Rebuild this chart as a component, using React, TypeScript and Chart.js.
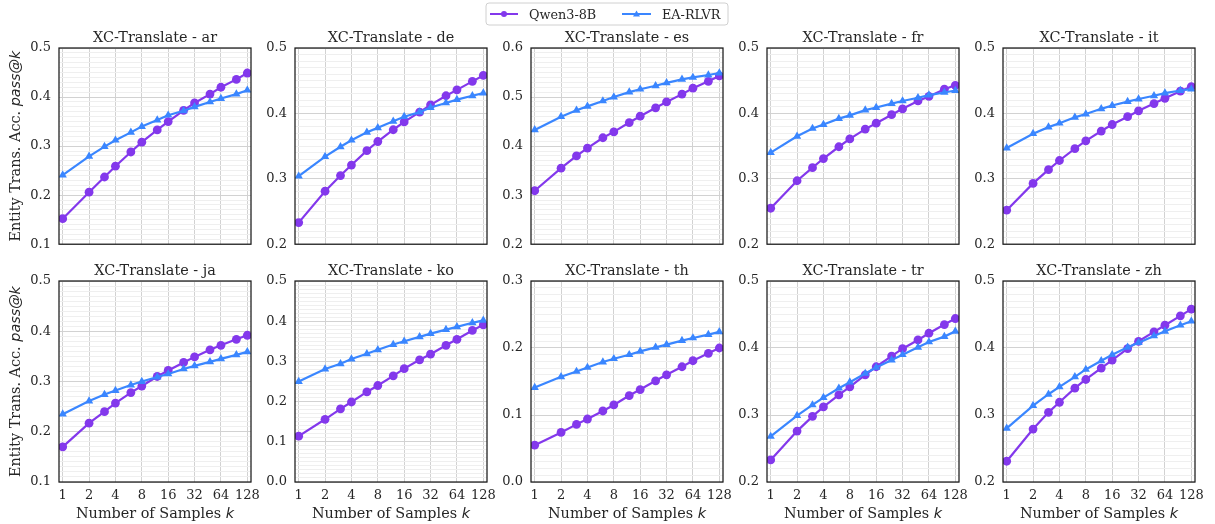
import React, { useEffect, useRef } from 'react';
import { Chart, registerables } from 'chart.js';

Chart.register(...registerables);

// ---------- data ----------
const SAMPLES = [1, 2, 3, 4, 6, 8, 12, 16, 24, 32, 48, 64, 96, 128];
const X_TICKS = [1, 2, 4, 8, 16, 32, 64, 128];
const LANGS = ['ar', 'de', 'es', 'fr', 'it', 'ja', 'ko', 'th', 'tr', 'zh'];
const Y_MIN = [0.1, 0.2, 0.2, 0.2, 0.2, 0.1, 0.0, 0.0, 0.2, 0.2];
const Y_MAX = [0.5, 0.5, 0.6, 0.5, 0.5, 0.5, 0.5, 0.3, 0.5, 0.5];

const QWEN_AR = [0.152, 0.206, 0.237, 0.259, 0.288, 0.308, 0.333, 0.350, 0.373, 0.388, 0.406, 0.420, 0.436, 0.449];
const EA_AR = [0.241, 0.279, 0.299, 0.312, 0.328, 0.340, 0.353, 0.363, 0.372, 0.380, 0.390, 0.397, 0.406, 0.414];
const QWEN_DE = [0.233, 0.281, 0.305, 0.321, 0.343, 0.357, 0.375, 0.387, 0.402, 0.413, 0.427, 0.436, 0.449, 0.458];
const EA_DE = [0.304, 0.334, 0.349, 0.359, 0.371, 0.378, 0.388, 0.395, 0.402, 0.409, 0.416, 0.421, 0.427, 0.431];
const QWEN_ES = [0.309, 0.355, 0.380, 0.396, 0.417, 0.429, 0.448, 0.461, 0.478, 0.490, 0.506, 0.518, 0.532, 0.543];
const EA_ES = [0.433, 0.460, 0.473, 0.481, 0.492, 0.500, 0.510, 0.516, 0.523, 0.529, 0.536, 0.540, 0.545, 0.549];
const QWEN_FR = [0.255, 0.297, 0.317, 0.331, 0.349, 0.361, 0.376, 0.385, 0.398, 0.407, 0.419, 0.426, 0.437, 0.443];
const EA_FR = [0.340, 0.365, 0.377, 0.383, 0.392, 0.397, 0.405, 0.409, 0.415, 0.419, 0.424, 0.428, 0.432, 0.435];
const QWEN_IT = [0.252, 0.293, 0.314, 0.328, 0.346, 0.358, 0.373, 0.383, 0.395, 0.404, 0.415, 0.423, 0.434, 0.441];
const EA_IT = [0.347, 0.369, 0.379, 0.385, 0.394, 0.399, 0.407, 0.412, 0.418, 0.422, 0.427, 0.431, 0.435, 0.437];
const QWEN_JA = [0.170, 0.217, 0.240, 0.257, 0.278, 0.291, 0.310, 0.322, 0.338, 0.349, 0.363, 0.372, 0.384, 0.392];
const EA_JA = [0.235, 0.261, 0.274, 0.282, 0.293, 0.300, 0.309, 0.315, 0.325, 0.331, 0.339, 0.345, 0.353, 0.359];
const QWEN_KO = [0.114, 0.156, 0.182, 0.199, 0.224, 0.240, 0.264, 0.282, 0.304, 0.318, 0.340, 0.355, 0.377, 0.391];
const EA_KO = [0.250, 0.281, 0.294, 0.306, 0.319, 0.329, 0.342, 0.350, 0.361, 0.369, 0.379, 0.386, 0.396, 0.402];
const QWEN_TH = [0.055, 0.074, 0.086, 0.094, 0.106, 0.115, 0.129, 0.138, 0.151, 0.160, 0.172, 0.181, 0.192, 0.200];
const EA_TH = [0.141, 0.157, 0.165, 0.171, 0.179, 0.184, 0.190, 0.195, 0.201, 0.205, 0.211, 0.215, 0.220, 0.224];
const QWEN_TR = [0.233, 0.276, 0.298, 0.312, 0.330, 0.342, 0.360, 0.372, 0.388, 0.399, 0.412, 0.422, 0.435, 0.444];
const EA_TR = [0.268, 0.299, 0.315, 0.326, 0.340, 0.349, 0.362, 0.371, 0.382, 0.390, 0.401, 0.409, 0.417, 0.425];
const QWEN_ZH = [0.231, 0.279, 0.304, 0.319, 0.340, 0.353, 0.370, 0.382, 0.399, 0.410, 0.424, 0.434, 0.448, 0.458];
const EA_ZH = [0.280, 0.314, 0.331, 0.342, 0.357, 0.368, 0.381, 0.390, 0.401, 0.408, 0.418, 0.425, 0.434, 0.440];

const QWEN = [QWEN_AR, QWEN_DE, QWEN_ES, QWEN_FR, QWEN_IT, QWEN_JA, QWEN_KO, QWEN_TH, QWEN_TR, QWEN_ZH];
const EA = [EA_AR, EA_DE, EA_ES, EA_FR, EA_IT, EA_JA, EA_KO, EA_TH, EA_TR, EA_ZH];

// ---------- style ----------
const PURPLE = '#8338ec';
const BLUE = '#3a86ff';
const TEXT = '#262626';
const MAJOR = '#d2d2d2';
const MINOR = '#efefef';
const SERIF = '"DejaVu Serif", serif';
const FONT = `14.4px ${SERIF}`;
const MATH = 'italic 14.4px "DejaVu Sans", sans-serif';
const LEGEND_FONT = `12.8px ${SERIF}`;

const PLOT_LEFTS = [59, 295, 531, 767, 1003];
const PLOT_TOPS = [48, 281];
const PLOT_W = 192;
const PLOT_H = 201;
const XMIN = Math.pow(2, -0.14);
const XMAX = Math.pow(2, 7.14);

type Part = { text: string; font: string };

function drawParts(ctx: CanvasRenderingContext2D, parts: Part[], x: number, y: number) {
  let total = 0;
  const widths = parts.map((p) => {
    ctx.font = p.font;
    const w = ctx.measureText(p.text).width;
    total += w;
    return w;
  });
  let cx = x - total / 2;
  ctx.textAlign = 'left';
  ctx.textBaseline = 'alphabetic';
  parts.forEach((p, i) => {
    ctx.font = p.font;
    ctx.fillText(p.text, cx, y);
    cx += widths[i];
  });
}

function isMajor(v: number) {
  return Math.abs(v * 10 - Math.round(v * 10)) < 1e-6;
}

function Panel({ idx }: { idx: number }) {
  const ref = useRef<HTMLCanvasElement>(null);
  const col = idx % 5;
  const row = Math.floor(idx / 5);
  const PL = col === 0 ? 59 : 50;
  const PT = row === 0 ? 48 : 21;
  const PB = row === 0 ? 11 : 42;
  const PR = 16;
  const left = PLOT_LEFTS[col] - PL;
  const top = PLOT_TOPS[row] - PT;
  const width = PL + PLOT_W + PR;
  const height = PT + PLOT_H + PB;

  useEffect(() => {
    const ymin = Y_MIN[idx];
    const ymax = Y_MAX[idx];
    const framePlugin = {
      id: 'frame' + idx,
      afterDraw(chart: any) {
        const ctx: CanvasRenderingContext2D = chart.ctx;
        const a = chart.chartArea;
        ctx.save();
        ctx.strokeStyle = '#1a1a1a';
        ctx.lineWidth = 1.25;
        ctx.strokeRect(a.left, a.top, a.right - a.left, a.bottom - a.top);
        ctx.fillStyle = TEXT;
        // title
        ctx.font = FONT;
        ctx.textAlign = 'center';
        ctx.textBaseline = 'alphabetic';
        ctx.fillText(`XC-Translate - ${LANGS[idx]}`, (a.left + a.right) / 2, a.top - 6);
        // x label
        if (row === 1) {
          drawParts(ctx, [
            { text: 'Number of Samples ', font: FONT },
            { text: 'k', font: MATH },
          ], (a.left + a.right) / 2, 518 - top);
        }
        // y label
        if (col === 0) {
          ctx.save();
          ctx.translate(19.5, (a.top + a.bottom) / 2);
          ctx.rotate(-Math.PI / 2);
          drawParts(ctx, [
            { text: 'Entity Trans. Acc. ', font: FONT },
            { text: 'pass@k', font: MATH },
          ], 0, 0);
          ctx.restore();
        }
        // legend
        if (idx === 2) {
          const ox = -left;
          const oy = -top;
          const bx = 486 + ox, by = 3 + oy, bw = 242, bh = 22;
          ctx.beginPath();
          const r = 3;
          ctx.moveTo(bx + r, by);
          ctx.lineTo(bx + bw - r, by);
          ctx.quadraticCurveTo(bx + bw, by, bx + bw, by + r);
          ctx.lineTo(bx + bw, by + bh - r);
          ctx.quadraticCurveTo(bx + bw, by + bh, bx + bw - r, by + bh);
          ctx.lineTo(bx + r, by + bh);
          ctx.quadraticCurveTo(bx, by + bh, bx, by + bh - r);
          ctx.lineTo(bx, by + r);
          ctx.quadraticCurveTo(bx, by, bx + r, by);
          ctx.closePath();
          ctx.fillStyle = 'rgba(255,255,255,0.85)';
          ctx.fill();
          ctx.strokeStyle = '#d0d0d0';
          ctx.lineWidth = 1;
          ctx.stroke();
          const ly = 14 + oy;
          // item 1
          ctx.strokeStyle = PURPLE;
          ctx.lineWidth = 2;
          ctx.beginPath();
          ctx.moveTo(490 + ox, ly);
          ctx.lineTo(518 + ox, ly);
          ctx.stroke();
          ctx.fillStyle = PURPLE;
          ctx.beginPath();
          ctx.arc(504 + ox, ly, 3, 0, Math.PI * 2);
          ctx.fill();
          // item 2
          ctx.strokeStyle = BLUE;
          ctx.beginPath();
          ctx.moveTo(622 + ox, ly);
          ctx.lineTo(651 + ox, ly);
          ctx.stroke();
          ctx.fillStyle = BLUE;
          const tx = 636.5 + ox;
          ctx.beginPath();
          ctx.moveTo(tx, ly - 3.5);
          ctx.lineTo(tx + 3.5, ly + 2.5);
          ctx.lineTo(tx - 3.5, ly + 2.5);
          ctx.closePath();
          ctx.fill();
          ctx.fillStyle = TEXT;
          ctx.font = LEGEND_FONT;
          ctx.textAlign = 'left';
          ctx.fillText('Qwen3-8B', 529 + ox, 19 + oy);
          ctx.fillText('EA-RLVR', 662 + ox, 19 + oy);
        }
        ctx.restore();
      },
    };

    const chart = new Chart(ref.current as HTMLCanvasElement, {
      type: 'line',
      data: {
        datasets: [
          {
            label: 'EA-RLVR',
            data: SAMPLES.map((k, j) => ({ x: k, y: EA[idx][j] })),
            borderColor: BLUE,
            backgroundColor: BLUE,
            pointBackgroundColor: BLUE,
            pointStyle: 'triangle',
            pointRadius: 4.8,
            pointBorderWidth: 0,
            borderWidth: 2.2,
            order: 0,
          },
          {
            label: 'Qwen3-8B',
            data: SAMPLES.map((k, j) => ({ x: k, y: QWEN[idx][j] })),
            borderColor: PURPLE,
            backgroundColor: PURPLE,
            pointBackgroundColor: PURPLE,
            pointStyle: 'circle',
            pointRadius: 4.4,
            pointBorderWidth: 0,
            borderWidth: 2.2,
            order: 1,
          },
        ],
      } as any,
      options: {
        responsive: false,
        animation: false,
        devicePixelRatio: 1,
        events: [],
        layout: { padding: { left: 0, right: PR, top: PT, bottom: 0 }, autoPadding: false },
        plugins: {
          legend: { display: false },
          tooltip: { enabled: false },
          title: { display: false },
        },
        scales: {
          x: {
            type: 'logarithmic',
            min: XMIN,
            max: XMAX,
            afterBuildTicks: (s: any) => {
              s.ticks = X_TICKS.map((v) => ({ value: v }));
            },
            afterFit: (s: any) => {
              s.height = PB;
            },
            grid: { color: MAJOR, lineWidth: 1, drawTicks: false },
            border: { display: false },
            ticks: {
              display: row === 1,
              autoSkip: false,
              maxRotation: 0,
              padding: 6,
              color: TEXT,
              font: { family: SERIF, size: 13 },
              callback: (v: any) => String(v),
            },
          },
          y: {
            type: 'linear',
            min: ymin,
            max: ymax,
            afterBuildTicks: (s: any) => {
              const n = Math.round((ymax - ymin) / 0.01);
              const t = [];
              for (let i = 0; i <= n; i++) t.push({ value: Math.round((ymin + i * 0.01) * 100) / 100 });
              s.ticks = t;
            },
            afterFit: (s: any) => {
              s.width = PL;
            },
            grid: {
              color: (c: any) => (c.tick && isMajor(c.tick.value) ? MAJOR : MINOR),
              lineWidth: 1,
              drawTicks: false,
            },
            border: { display: false },
            ticks: {
              autoSkip: false,
              padding: 8,
              color: TEXT,
              font: { family: SERIF, size: 13 },
              callback: (v: any) => (isMajor(Number(v)) ? Number(v).toFixed(1) : ''),
            },
          },
        },
      } as any,
      plugins: [framePlugin],
    });
    return () => chart.destroy();
  }, []);

  return (
    <canvas
      ref={ref}
      width={width}
      height={height}
      style={{ position: 'absolute', left, top, width, height }}
    />
  );
}

export default function App() {
  return (
    <div
      style={{
        position: 'absolute',
        left: 0,
        top: 0,
        width: 1215,
        height: 524,
        overflow: 'hidden',
        background: '#ffffff',
      }}
    >
      {LANGS.map((_, i) => (
        <Panel key={i} idx={i} />
      ))}
    </div>
  );
}
